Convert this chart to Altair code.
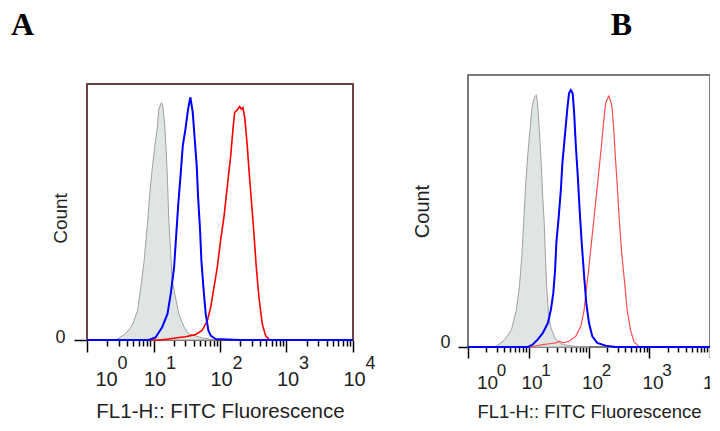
import altair as alt
import pandas as pd

# ---------------- shared axis definitions ----------------
DECADES = [1, 10, 100, 1000, 10000]
EXPONENTS = ["0", "1", "2", "3", "4"]
MINOR = [m * d for d in [1, 10, 100, 1000] for m in range(2, 10)]
X_DOMAIN = [1, 10000]
Y_DOMAIN = [0, 100]
X_TITLE = "FL1-H:: FITC Fluorescence"
Y_TITLE = "Count"
LETTERS = ["A", "B"]

# ---------------- panel A (x: log10 fluorescence, y: % of full scale) -------
A_GRAY_LOG = [0.43, 0.58, 0.68, 0.76, 0.81, 0.86, 0.91, 0.94, 0.98, 1.02, 1.06, 1.08, 1.12,
              1.14, 1.17, 1.19, 1.21, 1.23, 1.26, 1.28, 1.33, 1.38, 1.46, 1.53, 1.73, 1.94]
A_GRAY_CNT = [0, 2.4, 5.6, 11.5, 20.7, 31.2, 45.6, 56.1, 66.6, 75.8, 83.6, 90.2, 92.8,
              91.5, 83.6, 74.4, 62.6, 46.9, 33.8, 23.3, 16.8, 10.2, 5.0, 2.4, 0.8, 0]
A_BLUE_LOG = [0, 0.93, 1.03, 1.13, 1.21, 1.26, 1.31, 1.34, 1.37, 1.41, 1.44, 1.48, 1.52, 1.555,
              1.59, 1.62, 1.65, 1.67, 1.70, 1.72, 1.75, 1.785, 1.825, 1.86, 1.935, 2.3, 4]
A_BLUE_CNT = [0, 0, 1.0, 5.0, 10.2, 18.1, 28.6, 40.4, 52.2, 65.3, 75.8, 82.3, 90.2, 94.8,
              88.9, 78.4, 67.9, 56.1, 43.0, 31.2, 20.7, 10.2, 3.7, 1.7, 0.4, 0, 0]
A_RED_LOG = [0, 1.08, 1.23, 1.38, 1.48, 1.63, 1.73, 1.81, 1.86, 1.91, 1.96, 2.01, 2.06, 2.11,
             2.16, 2.195, 2.22, 2.26, 2.295, 2.32, 2.345, 2.375, 2.41, 2.435, 2.475, 2.51,
             2.545, 2.585, 2.635, 2.685, 2.745, 4]
A_RED_CNT = [0, 0, 0.4, 1.0, 1.3, 2.1, 3.7, 7.6, 12.8, 20.7, 28.6, 39.1, 48.2, 60.0,
             71.8, 82.3, 88.9, 89.9, 91.2, 90.2, 90.8, 86.2, 75.8, 66.6, 53.5, 41.7,
             28.6, 16.8, 6.3, 1.7, 0, 0]

# ---------------- panel B ----------------
B_GRAY_LOG = [0.45, 0.61, 0.72, 0.80, 0.85, 0.89, 0.92, 0.95, 0.99, 1.03, 1.06, 1.10, 1.13,
              1.15, 1.18, 1.21, 1.235, 1.26, 1.28, 1.30, 1.33, 1.37, 1.45, 1.56, 1.78, 2.0]
B_GRAY_CNT = [0, 2.7, 6.4, 13.7, 22.3, 33.3, 45.5, 59.0, 71.2, 81.0, 88.4, 92.0, 92.6,
              89.6, 79.8, 67.6, 55.3, 45.5, 33.3, 22.3, 12.5, 7.0, 2.7, 0.9, 0.2, 0]
B_BLUE_LOG = [0, 0.99, 1.07, 1.15, 1.235, 1.32, 1.37, 1.41, 1.44, 1.46, 1.50, 1.535, 1.56, 1.59,
              1.62, 1.645, 1.67, 1.70, 1.73, 1.755, 1.78, 1.815, 1.845, 1.88, 1.92, 1.955,
              2.0, 2.055, 2.135, 2.275, 2.44, 4]
B_BLUE_CNT = [0, 0, 0.9, 2.7, 5.1, 8.8, 13.7, 19.8, 28.4, 38.2, 48.0, 57.8, 67.6, 74.9,
              82.3, 88.4, 93.3, 94.5, 93.3, 85.9, 74.9, 62.7, 50.4, 38.2, 25.9, 16.2,
              8.8, 3.9, 1.5, 0.5, 0, 0]
B_RED_LOG = [0, 1.02, 1.235, 1.345, 1.455, 1.51, 1.565, 1.67, 1.78, 1.865, 1.92, 1.955, 2.0,
             2.045, 2.08, 2.12, 2.165, 2.21, 2.245, 2.275, 2.30, 2.33, 2.355, 2.38, 2.41,
             2.435, 2.465, 2.49, 2.52, 2.545, 2.59, 2.63, 2.685, 2.74, 2.82, 2.875, 4]
B_RED_CNT = [0, 0, 0.9, 1.2, 1.5, 2.1, 1.5, 2.1, 3.9, 7.6, 13.7, 21.1, 29.6,
             39.4, 46.8, 55.3, 65.1, 74.9, 83.5, 89.6, 91.1, 92.3, 90.6, 88.4, 79.8,
             70.0, 60.2, 50.4, 40.6, 33.3, 23.5, 13.7, 6.4, 2.1, 0.2, 0, 0]

FONT = "Liberation Sans"
TXT = "#222222"
GRAY_FILL = "#dfe5e5"
GRAY_LINE = "#a0a0a0"

STYLE_A = dict(w=266, h=265, ytop=9, major=12, minor=6, lab_fs=20, lab_pad=33, first_off=19,
               lab_off=1, exp_fs=18, exp_pad=28, exp_shift=16, xt_fs=20.5, xt_y=77.5, cnt_fs=19,
               yt_x=-21, yt_y=143, ytick=13, ylab_pad=9, ylab_off=2, frame="#6e4040",
               frame_w=2, red="#ff0000", red_w=1.6, blue="#0000ff", blue_w=2, anchor="start",
               tdx=-76, tdy=0)
STYLE_B = dict(w=242, h=272, ytop=0, major=11, minor=5, lab_fs=19, lab_pad=30, first_off=19,
               lab_off=3, exp_fs=17, exp_pad=28, exp_shift=14, xt_fs=18.5, xt_y=70.5, cnt_fs=20,
               yt_x=-40, yt_y=136, ytick=10, ylab_pad=8, ylab_off=0, frame="#505050",
               frame_w=1.5, red="#ff4d4d", red_w=1.2, blue="#0000ff", blue_w=2, anchor="end",
               tdx=-78, tdy=1.5)
TITLE_OFFSET = 33.5


def frame(logs, cnts):
    return pd.DataFrame({"fl": [10 ** v for v in logs], "count": cnts})


def panel(letter, gray, blue, red, st):
    xs = alt.Scale(type="log", domain=X_DOMAIN, nice=False)
    ys = alt.Scale(domain=Y_DOMAIN, range=[st["h"], st["ytop"]], nice=False)
    g, b, r = frame(*gray), frame(*blue), frame(*red)
    box = pd.DataFrame({"x": [X_DOMAIN[0]], "x2": [X_DOMAIN[1]],
                        "y": [Y_DOMAIN[0]], "y2": [Y_DOMAIN[1]]})

    main_x = alt.Axis(
        values=DECADES, tickCount=len(DECADES), labelExpr="'10'", tickSize=st["major"],
        tickWidth=1.5, tickColor="black",
        domain=False, grid=False, labelFlush=False, labelOverlap=False,
        labelFont=FONT, labelFontSize=st["lab_fs"], labelColor=TXT, labelBaseline="alphabetic",
        labelPadding=st["lab_pad"],
        labelOffset={"condition": {"test": "datum.value == 1", "value": st["first_off"]},
                     "value": st["lab_off"]},
        title=X_TITLE, titleFont=FONT, titleFontSize=st["xt_fs"], titleFontWeight="normal",
        titleColor=TXT, titleBaseline="alphabetic", titleY=st["xt_y"])
    yax = alt.Axis(
        values=[0], labelExpr="'0'", tickSize=st["ytick"], tickWidth=1.5, tickColor="black",
        domain=False, grid=False, labelFlush=False, labelFont=FONT, labelFontSize=18,
        labelColor=TXT, labelPadding=st["ylab_pad"], labelBaseline="alphabetic",
        labelOffset=st["ylab_off"], title=Y_TITLE, titleFont=FONT, titleFontSize=st["cnt_fs"],
        titleFontWeight="normal", titleColor=TXT, titleBaseline="alphabetic",
        titleX=st["yt_x"], titleY=st["yt_y"])

    X = lambda ax: alt.X("fl:Q", scale=xs, axis=ax)
    Y = alt.Y("count:Q", scale=ys, axis=yax)

    border = alt.Chart(box).mark_rect(filled=False, color=st["frame"],
                                      strokeWidth=st["frame_w"]).encode(
        x=alt.X("x:Q", scale=xs, axis=main_x), x2="x2:Q",
        y=alt.Y("y:Q", scale=ys, axis=yax), y2="y2:Q")
    area = alt.Chart(g).mark_area(fill=GRAY_FILL, stroke=GRAY_LINE, strokeWidth=1).encode(
        x=X(main_x), y=Y)
    red_l = alt.Chart(r).mark_line(color=st["red"], strokeWidth=st["red_w"]).encode(
        x=X(main_x), y=Y)
    blue_l = alt.Chart(b).mark_line(color=st["blue"], strokeWidth=st["blue_w"]).encode(
        x=X(main_x), y=Y)

    minor_ax = alt.Axis(orient="bottom", values=MINOR, tickCount=len(MINOR), labels=False,
                        tickSize=st["minor"], tickWidth=1.5, tickColor="black", domain=False,
                        grid=False, title=None)
    minor_l = alt.Chart(r).mark_line(opacity=0).encode(x=X(minor_ax), y=Y)

    exp_ax = alt.Axis(
        orient="bottom", values=DECADES, tickCount=len(DECADES),
        labelExpr=f"{EXPONENTS}[indexof({DECADES}, datum.value)]",
        ticks=False, tickSize=0, domain=False, grid=False, labelFlush=False, labelOverlap=False,
        labelFont=FONT, labelFontSize=st["exp_fs"], labelColor=TXT, labelBaseline="alphabetic",
        labelPadding=st["exp_pad"],
        labelOffset={"condition": {"test": "datum.value == 1",
                                   "value": st["first_off"] + st["exp_shift"]},
                     "value": st["lab_off"] + st["exp_shift"]},
        title=None)
    exp_l = alt.Chart(r).mark_line(opacity=0).encode(x=X(exp_ax), y=Y)

    return alt.layer(alt.layer(border, area, red_l, blue_l), minor_l, exp_l).resolve_scale(
        x="independent").properties(
        width=st["w"], height=st["h"],
        view=alt.ViewBackground(stroke="transparent"),
        title=alt.TitleParams(letter, anchor=st["anchor"], frame="group", dx=st["tdx"],
                              dy=st["tdy"], offset=TITLE_OFFSET, font="Liberation Serif",
                              fontSize=32, fontWeight="bold", color="black"))


pA = panel(LETTERS[0], (A_GRAY_LOG, A_GRAY_CNT), (A_BLUE_LOG, A_BLUE_CNT),
           (A_RED_LOG, A_RED_CNT), STYLE_A)
pB = panel(LETTERS[1], (B_GRAY_LOG, B_GRAY_CNT), (B_BLUE_LOG, B_BLUE_CNT),
           (B_RED_LOG, B_RED_CNT), STYLE_B)

chart = alt.concat(pA, pB, columns=2, spacing=35, align="none").properties(
    padding={"left": 2, "top": 0, "right": -23, "bottom": 0})

chart.save("out.html", embed_options={"renderer": "svg", "actions": False})
